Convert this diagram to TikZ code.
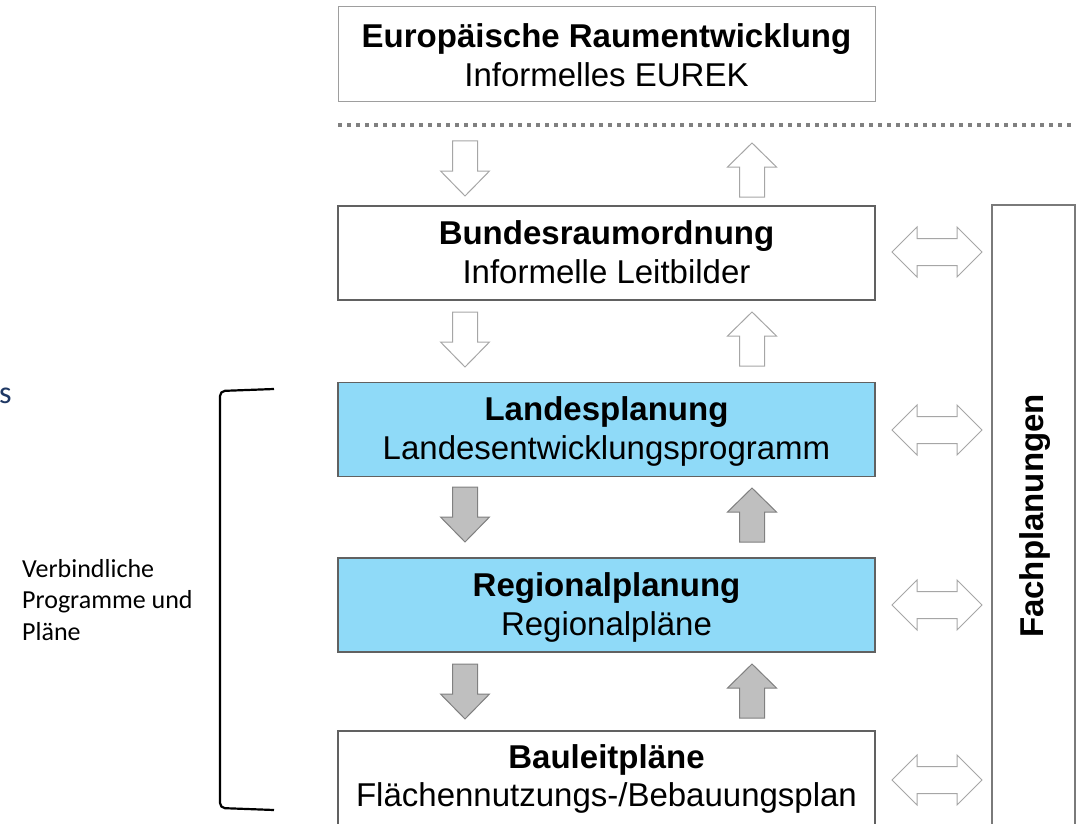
\documentclass[tikz,border=0pt]{standalone}
\usepackage{fontspec}
\setmainfont{Liberation Sans}
\newfontfamily\calfont{Carlito}
\definecolor{boxblue}{HTML}{8FDAF8}
\definecolor{navyblue}{HTML}{1F3864}
\definecolor{arrgray}{HTML}{BFBFBF}
\tikzset{
  pics/darrow/.style={code={\path[pic actions] (-12.5,0) -- (12.5,0) -- (12.5,30) -- (24.5,30) -- (0,55) -- (-24.5,30) -- (-12.5,30) -- cycle;}},
  pics/uarrow/.style={code={\path[pic actions] (0,0) -- (24.5,24) -- (12.5,24) -- (12.5,54) -- (-12.5,54) -- (-12.5,24) -- (-24.5,24) -- cycle;}},
  pics/lrarrow/.style={code={\path[pic actions] (-45,0) -- (-20,-25) -- (-20,-13.5) -- (20,-13.5) -- (20,-25) -- (45,0) -- (20,25) -- (20,13.5) -- (-20,13.5) -- (-20,25) -- cycle;}},
}
\begin{document}
\begin{tikzpicture}[x=1pt,y=-1pt,
  levelbox/.style={draw=black!62, line width=1.3pt, minimum width=537pt, minimum height=94pt, inner sep=0pt, rectangle, fill=white},
  titletext/.style={anchor=base, inner sep=0pt, font=\fontsize{33}{40}\selectfont\bfseries},
  subtext/.style={anchor=base, inner sep=0pt, font=\fontsize{33}{40}\selectfont},
  hollowarr/.style={draw=black!35, line width=1pt, fill=white},
  grayarr/.style={draw=black!50, line width=1pt, fill=arrgray},
  sidetext/.style={anchor=base west, inner sep=0pt, font=\calfont\fontsize{26}{31}\selectfont}
  ]
\useasboundingbox (0,0) rectangle (1076,824);
\clip (0,0) rectangle (1076,824);

% boxes
\node[levelbox, draw=black!38, line width=1pt, minimum height=95pt] (eu) at (606.5,54.5) {};
\node[levelbox] (bund) at (606.5,253) {};
\node[levelbox, fill=boxblue] (landes) at (606.5,429.5) {};
\node[levelbox, fill=boxblue] (regional) at (606.5,605) {};
\node[levelbox, minimum height=97pt] (bauleit) at (606.5,779.5) {};
\node[draw=black!52, line width=1.2pt, rectangle, inner sep=0pt, minimum width=83pt, minimum height=630pt] (fach) at (1033.5,520) {};

% texts
\node[titletext] (eut) at ([yshift=-41pt]eu.north) {Europäische Raumentwicklung};
\node[subtext] (eus) at ([yshift=-80pt]eu.north) {Informelles EUREK};
\node[titletext] (bundt) at ([yshift=-39pt]bund.north) {Bundesraumordnung};
\node[subtext] (bunds) at ([yshift=-78pt]bund.north) {Informelle Leitbilder};
\node[titletext] (landest) at ([yshift=-39pt]landes.north) {Landesplanung};
\node[subtext] (landess) at ([yshift=-78pt]landes.north) {Landesentwicklungsprogramm};
\node[titletext] (regt) at ([yshift=-39pt]regional.north) {Regionalplanung};
\node[subtext] (regs) at ([yshift=-78pt]regional.north) {Regionalpläne};
\node[titletext] (baut) at ([yshift=-38pt]bauleit.north) {Bauleitpläne};
\node[subtext] (baus) at ([yshift=-76pt]bauleit.north) {Flächennutzungs-/Bebauungsplan};
\node[rotate=90, inner sep=0pt, font=\fontsize{33}{40}\selectfont\bfseries] (facht) at (1035,516) {Fachplanungen};

% dotted separator
\coordinate (sepL) at (338,125);
\coordinate (sepR) at (1080,125);
\draw[black!50, line width=3.5pt, dash pattern=on 4pt off 5pt] (sepL) -- (sepR);

% vertical block arrows
\pic[hollowarr] at (465,141) {darrow};
\pic[hollowarr] at (752,143) {uarrow};
\pic[hollowarr] at (465,312) {darrow};
\pic[hollowarr] at (752,312) {uarrow};
\pic[grayarr] at (465,487) {darrow};
\pic[grayarr] at (752,488) {uarrow};
\pic[grayarr] at (465,664) {darrow};
\pic[grayarr] at (752,664) {uarrow};

% horizontal double arrows
\pic[hollowarr] at (937,252) {lrarrow};
\pic[hollowarr] at (937,430) {lrarrow};
\pic[hollowarr] at (937,605) {lrarrow};
\pic[hollowarr] at (937,780) {lrarrow};

% bracket
\coordinate (brT) at (274,389);
\coordinate (brB) at (274,810);
\draw[black, line width=2.2pt, rounded corners=5pt] (brT) -- (220,391) -- (220,808) -- (brB);

% side texts
\node[anchor=base west, inner sep=0pt, text=navyblue, font=\calfont\fontsize{32}{38}\selectfont] (stext) at (-1,403) {s};
\node[sidetext] (v1) at (22,577) {Verbindliche};
\node[sidetext] (v2) at (22,608.5) {Programme und};
\node[sidetext] (v3) at (22,640) {Pläne};
\end{tikzpicture}
\end{document}
